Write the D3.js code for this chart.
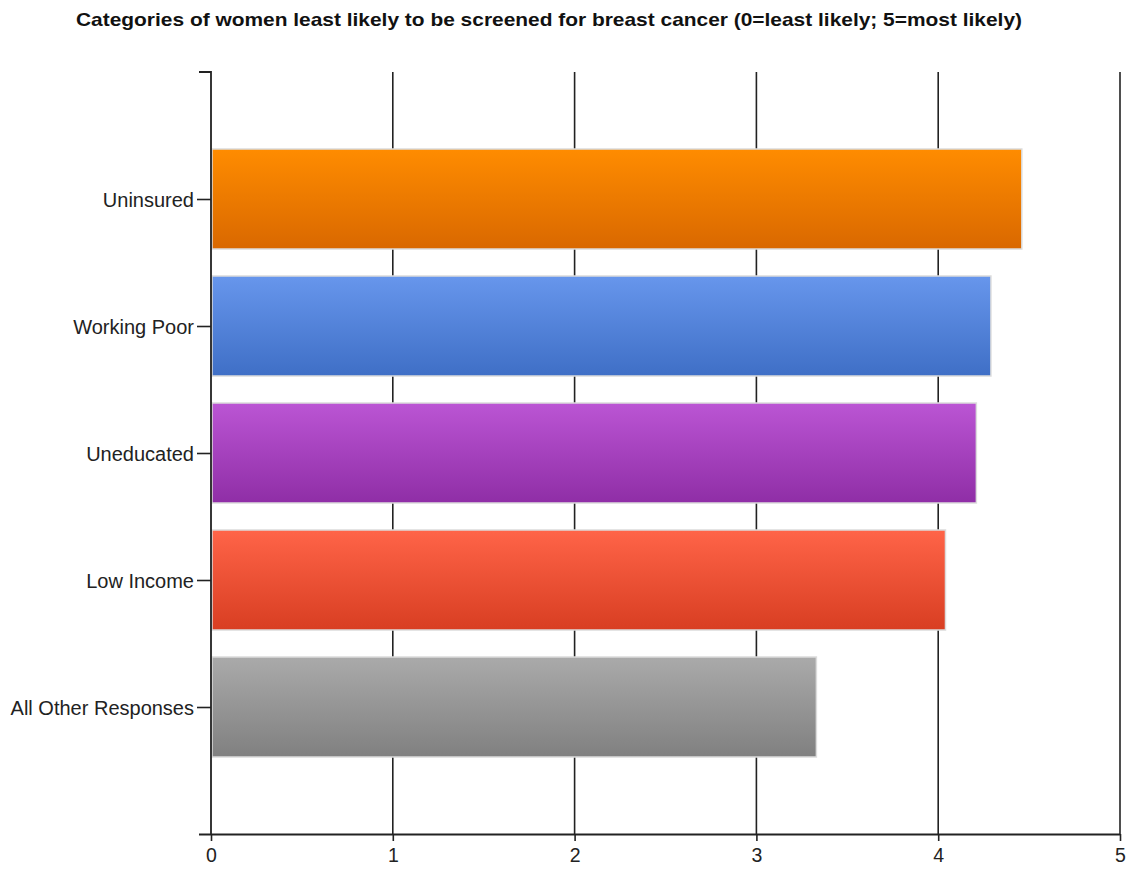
<!DOCTYPE html>
<html><head><meta charset="utf-8">
<script src="https://cdn.jsdelivr.net/npm/d3@7"></script>
<style>body{margin:0;background:#fff}svg{display:block}</style>
</head><body><svg id="c" width="1127" height="869"></svg>
<script>
const title = "Categories of women least likely to be screened for breast cancer (0=least likely; 5=most likely)";
const categories = ["Uninsured","Working Poor","Uneducated","Low Income","All Other Responses"];
const values = [4.46, 4.29, 4.21, 4.04, 3.33];
const xTicks = [0,1,2,3,4,5];
const colorTop = ["#ff8c00","#6796ec","#bb55d4","#ff6448","#aaaaaa"];
const colorBot = ["#d96800","#3f6fc6","#8f2ea6","#d83e22","#808080"];

const svg = d3.select("#c");
const m = {l:211, r:1120, t:72, b:834};
const x = d3.scaleLinear().domain([0,5]).range([m.l, m.r]);
const y = d3.scalePoint().domain(categories).range([m.t, m.b]).padding(1);
const barH = 100;

const defs = svg.append("defs");
categories.forEach((c,i)=>{
  const g = defs.append("linearGradient").attr("id","g"+i).attr("x1",0).attr("y1",0).attr("x2",0).attr("y2",1);
  g.append("stop").attr("offset","0%").attr("stop-color",colorTop[i]);
  g.append("stop").attr("offset","100%").attr("stop-color",colorBot[i]);
});

// title
svg.append("text").attr("x",549).attr("y",26).attr("text-anchor","middle")
  .attr("font-family","Liberation Sans, Arial, sans-serif").attr("font-weight","bold")
  .attr("font-size",19).attr("textLength",946).attr("lengthAdjust","spacingAndGlyphs")
  .attr("fill","#111").text(title);

// gridlines
svg.append("g").selectAll("line").data(xTicks.slice(1)).join("line")
  .attr("x1",d=>x(d)).attr("x2",d=>x(d)).attr("y1",m.t).attr("y2",m.b)
  .attr("stroke","#222").attr("stroke-width",1.6);

// bars
svg.append("g").selectAll("rect").data(categories).join("rect")
  .attr("x",x(0)+1).attr("y",d=>y(d)-barH/2)
  .attr("width",(d,i)=>x(values[i])-x(0)-1).attr("height",barH)
  .attr("fill",(d,i)=>`url(#g${i})`).attr("stroke","#dcdcdc").attr("stroke-width",1.5);

// x axis
const xa = svg.append("g").attr("transform",`translate(0,${m.b})`)
  .call(d3.axisBottom(x).tickValues(xTicks).tickFormat(d3.format("d")).tickSizeOuter(0).tickSize(7).tickPadding(7));
xa.select(".domain").attr("d",`M${m.l-12},0.5H${m.r}`);
// y axis
const ya = svg.append("g").attr("transform",`translate(${m.l},0)`)
  .call(d3.axisLeft(y).tickSize(14).tickPadding(3).tickSizeOuter(0));
ya.select(".domain").attr("d",`M-12,${m.t}H0V${m.b}`);
[xa,ya].forEach(a=>{
  a.select(".domain").attr("stroke","#222").attr("stroke-width",1.8).attr("fill","none");
  a.selectAll(".tick line").attr("stroke","#222").attr("stroke-width",1.6);
  a.selectAll("text").attr("font-family","Liberation Sans, Arial, sans-serif").attr("fill","#222");
});
xa.selectAll("text").attr("font-size",19.5);
ya.selectAll("text").attr("font-size",20).attr("dy","0.35em");
</script></body></html>
